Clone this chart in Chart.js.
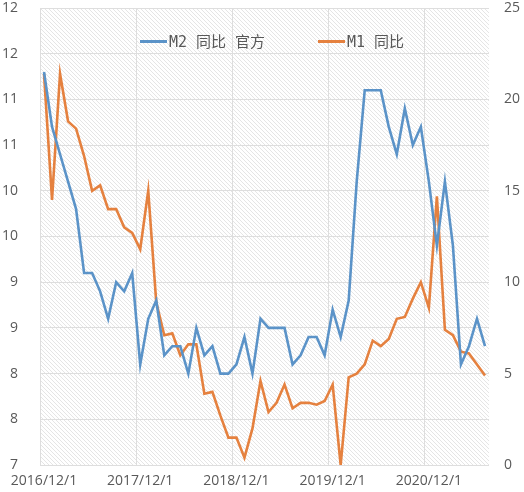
<!DOCTYPE html>
<html>
<head>
<meta charset="utf-8">
<script src="https://cdn.jsdelivr.net/npm/chart.js@4/dist/chart.umd.min.js"></script>
<style>
  html, body { margin: 0; padding: 0; background: #fff; }
  .chart-container { position: relative; width: 524px; height: 492px; }
  .legend { position: absolute; top: 33px; left: 0; height: 18px; }
  .legend-item { position: absolute; top: 0; white-space: nowrap; font: 15px "DejaVu Sans Mono", "Noto Sans CJK SC", sans-serif; color: #595959; line-height: 18px; }
  .legend-line { display: inline-block; width: 27px; height: 3px; vertical-align: middle; margin-right: 2px; position: relative; top: -1px; }
</style>
</head>
<body>
<div class="chart-container">
  <canvas id="moneyChart"></canvas>
  <div class="legend" id="legend"></div>
</div>
<script>
// Monthly categories, 2016/12 to 2021/7
const categories = [
    '2016/12/1',
    '2017/1/1', '2017/2/1', '2017/3/1', '2017/4/1', '2017/5/1', '2017/6/1',
    '2017/7/1', '2017/8/1', '2017/9/1', '2017/10/1', '2017/11/1', '2017/12/1',
    '2018/1/1', '2018/2/1', '2018/3/1', '2018/4/1', '2018/5/1', '2018/6/1',
    '2018/7/1', '2018/8/1', '2018/9/1', '2018/10/1', '2018/11/1', '2018/12/1',
    '2019/1/1', '2019/2/1', '2019/3/1', '2019/4/1', '2019/5/1', '2019/6/1',
    '2019/7/1', '2019/8/1', '2019/9/1', '2019/10/1', '2019/11/1', '2019/12/1',
    '2020/1/1', '2020/2/1', '2020/3/1', '2020/4/1', '2020/5/1', '2020/6/1',
    '2020/7/1', '2020/8/1', '2020/9/1', '2020/10/1', '2020/11/1', '2020/12/1',
    '2021/1/1', '2021/2/1', '2021/3/1', '2021/4/1', '2021/5/1', '2021/6/1',
    '2021/7/1'
];

// M2 year-on-year, left axis (%)
const m2Values = [
    11.3, 10.7, 10.4, 10.1, 9.8, 9.1, 9.1, 8.9, 8.6, 9.0, 8.9, 9.1,
    8.1, 8.6, 8.8, 8.2, 8.3, 8.3, 8.0, 8.5, 8.2, 8.3, 8.0, 8.0,
    8.1, 8.4, 8.0, 8.6, 8.5, 8.5, 8.5, 8.1, 8.2, 8.4, 8.4, 8.2,
    8.7, 8.4, 8.8, 10.1, 11.1, 11.1, 11.1, 10.7, 10.4, 10.9, 10.5, 10.7,
    10.1, 9.4, 10.1, 9.4, 8.1, 8.3, 8.6, 8.3
];

// M1 year-on-year, right axis (%)
const m1Values = [
    21.4, 14.5, 21.4, 18.8, 18.4, 16.9, 15.0, 15.3, 14.0, 14.0, 13.0, 12.7,
    11.8, 15.0, 8.9, 7.1, 7.2, 6.0, 6.6, 6.6, 3.9, 4.0, 2.7, 1.5,
    1.5, 0.4, 2.0, 4.6, 2.9, 3.4, 4.4, 3.1, 3.4, 3.4, 3.3, 3.5,
    4.4, 0.0, 4.8, 5.0, 5.5, 6.8, 6.5, 6.9, 8.0, 8.1, 9.1, 10.0,
    8.6, 14.7, 7.4, 7.1, 6.2, 6.1, 5.5, 4.9
];

// Tick labels as shown on the axes
const xTickLabels = ['2016/12/1', '2017/12/1', '2018/12/1', '2019/12/1', '2020/12/1'];
const leftTickLabels = ['7', '8', '8', '9', '9', '10', '10', '11', '11', '12', '12'];
const rightTickLabels = ['0', '5', '10', '15', '20', '25'];

const seriesNames = ['M2 同比 官方', 'M1 同比'];

const textColor = '#595959';
const gridColor = '#dedede';
const tickFont = { family: 'Open Sans', size: 14 };

/**
 * Light diagonal hatching behind the plot area
 */
let hatchPattern = null;
function makeHatch(ctx) {
    const s = 4;
    const tile = document.createElement('canvas');
    tile.width = s;
    tile.height = s;
    const t = tile.getContext('2d');
    t.strokeStyle = 'rgba(150, 150, 150, 0.25)';
    t.lineWidth = 1;
    t.beginPath();
    t.moveTo(-1, -1); t.lineTo(s + 1, s + 1);
    t.moveTo(s - 1, -1); t.lineTo(s + 1, 1);
    t.moveTo(-1, s - 1); t.lineTo(1, s + 1);
    t.stroke();
    return ctx.createPattern(tile, 'repeat');
}

const hatchPlugin = {
    id: 'hatch',
    beforeDraw(chart) {
        const { ctx, chartArea: a } = chart;
        if (!hatchPattern) hatchPattern = makeHatch(ctx);
        ctx.save();
        ctx.fillStyle = hatchPattern;
        ctx.fillRect(a.left, a.top, a.right - a.left, a.bottom - a.top);
        ctx.restore();
    }
};

// Fix axis sizes so the plot area lands where it is in the original
function fitVertical(width) {
    return s => {
        s.width = width;
        s.paddingTop = 8;
        s.paddingBottom = 0;
    };
}

const ctx = document.getElementById('moneyChart').getContext('2d');

const chart = new Chart(ctx, {
    type: 'line',
    data: {
        labels: categories,
        datasets: [
            {
                label: seriesNames[0],
                data: m2Values,
                yAxisID: 'y',
                borderColor: '#5B93C8',
                borderWidth: 2.6,
                pointRadius: 0,
                tension: 0
            },
            {
                label: seriesNames[1],
                data: m1Values,
                yAxisID: 'y1',
                borderColor: '#E5813F',
                borderWidth: 2.6,
                pointRadius: 0,
                tension: 0
            }
        ]
    },
    options: {
        responsive: true,
        maintainAspectRatio: false,
        animation: false,
        layout: { padding: 0 },
        plugins: {
            legend: { display: false },
            tooltip: { enabled: false }
        },
        scales: {
            x: {
                offset: true,
                grid: {
                    offset: true,
                    drawTicks: false,
                    color: c => (c.index % 12 === 0 ? gridColor : 'transparent')
                },
                border: { display: false },
                ticks: {
                    autoSkip: false,
                    maxRotation: 0,
                    minRotation: 0,
                    padding: 8,
                    color: textColor,
                    font: tickFont,
                    callback: (v, i) => (xTickLabels.includes(categories[i]) ? categories[i] : '')
                },
                afterFit: s => {
                    s.height = 27;
                    s.paddingLeft = 0;
                    s.paddingRight = 0;
                }
            },
            y: {
                position: 'left',
                min: 7,
                max: 12,
                grid: { color: gridColor, drawTicks: false },
                border: { display: false },
                ticks: {
                    stepSize: 0.5,
                    padding: 22,
                    color: textColor,
                    font: tickFont,
                    callback: (v, i) => leftTickLabels[i]
                },
                afterFit: fitVertical(40)
            },
            y1: {
                position: 'right',
                min: 0,
                max: 25,
                grid: { drawOnChartArea: false, drawTicks: false },
                border: { display: false },
                ticks: {
                    stepSize: 5,
                    padding: 15,
                    color: textColor,
                    font: tickFont,
                    callback: (v, i) => rightTickLabels[i]
                },
                afterFit: fitVertical(35)
            }
        }
    },
    plugins: [hatchPlugin]
});

// Legend sits inside the plot area, as in the original
const legendLeft = [140, 318];
document.getElementById('legend').innerHTML = chart.data.datasets.map((ds, i) => `
    <span class="legend-item" style="left:${legendLeft[i]}px">
        <span class="legend-line" style="background:${ds.borderColor}"></span>${ds.label}
    </span>`).join('');
</script>
</body>
</html>
